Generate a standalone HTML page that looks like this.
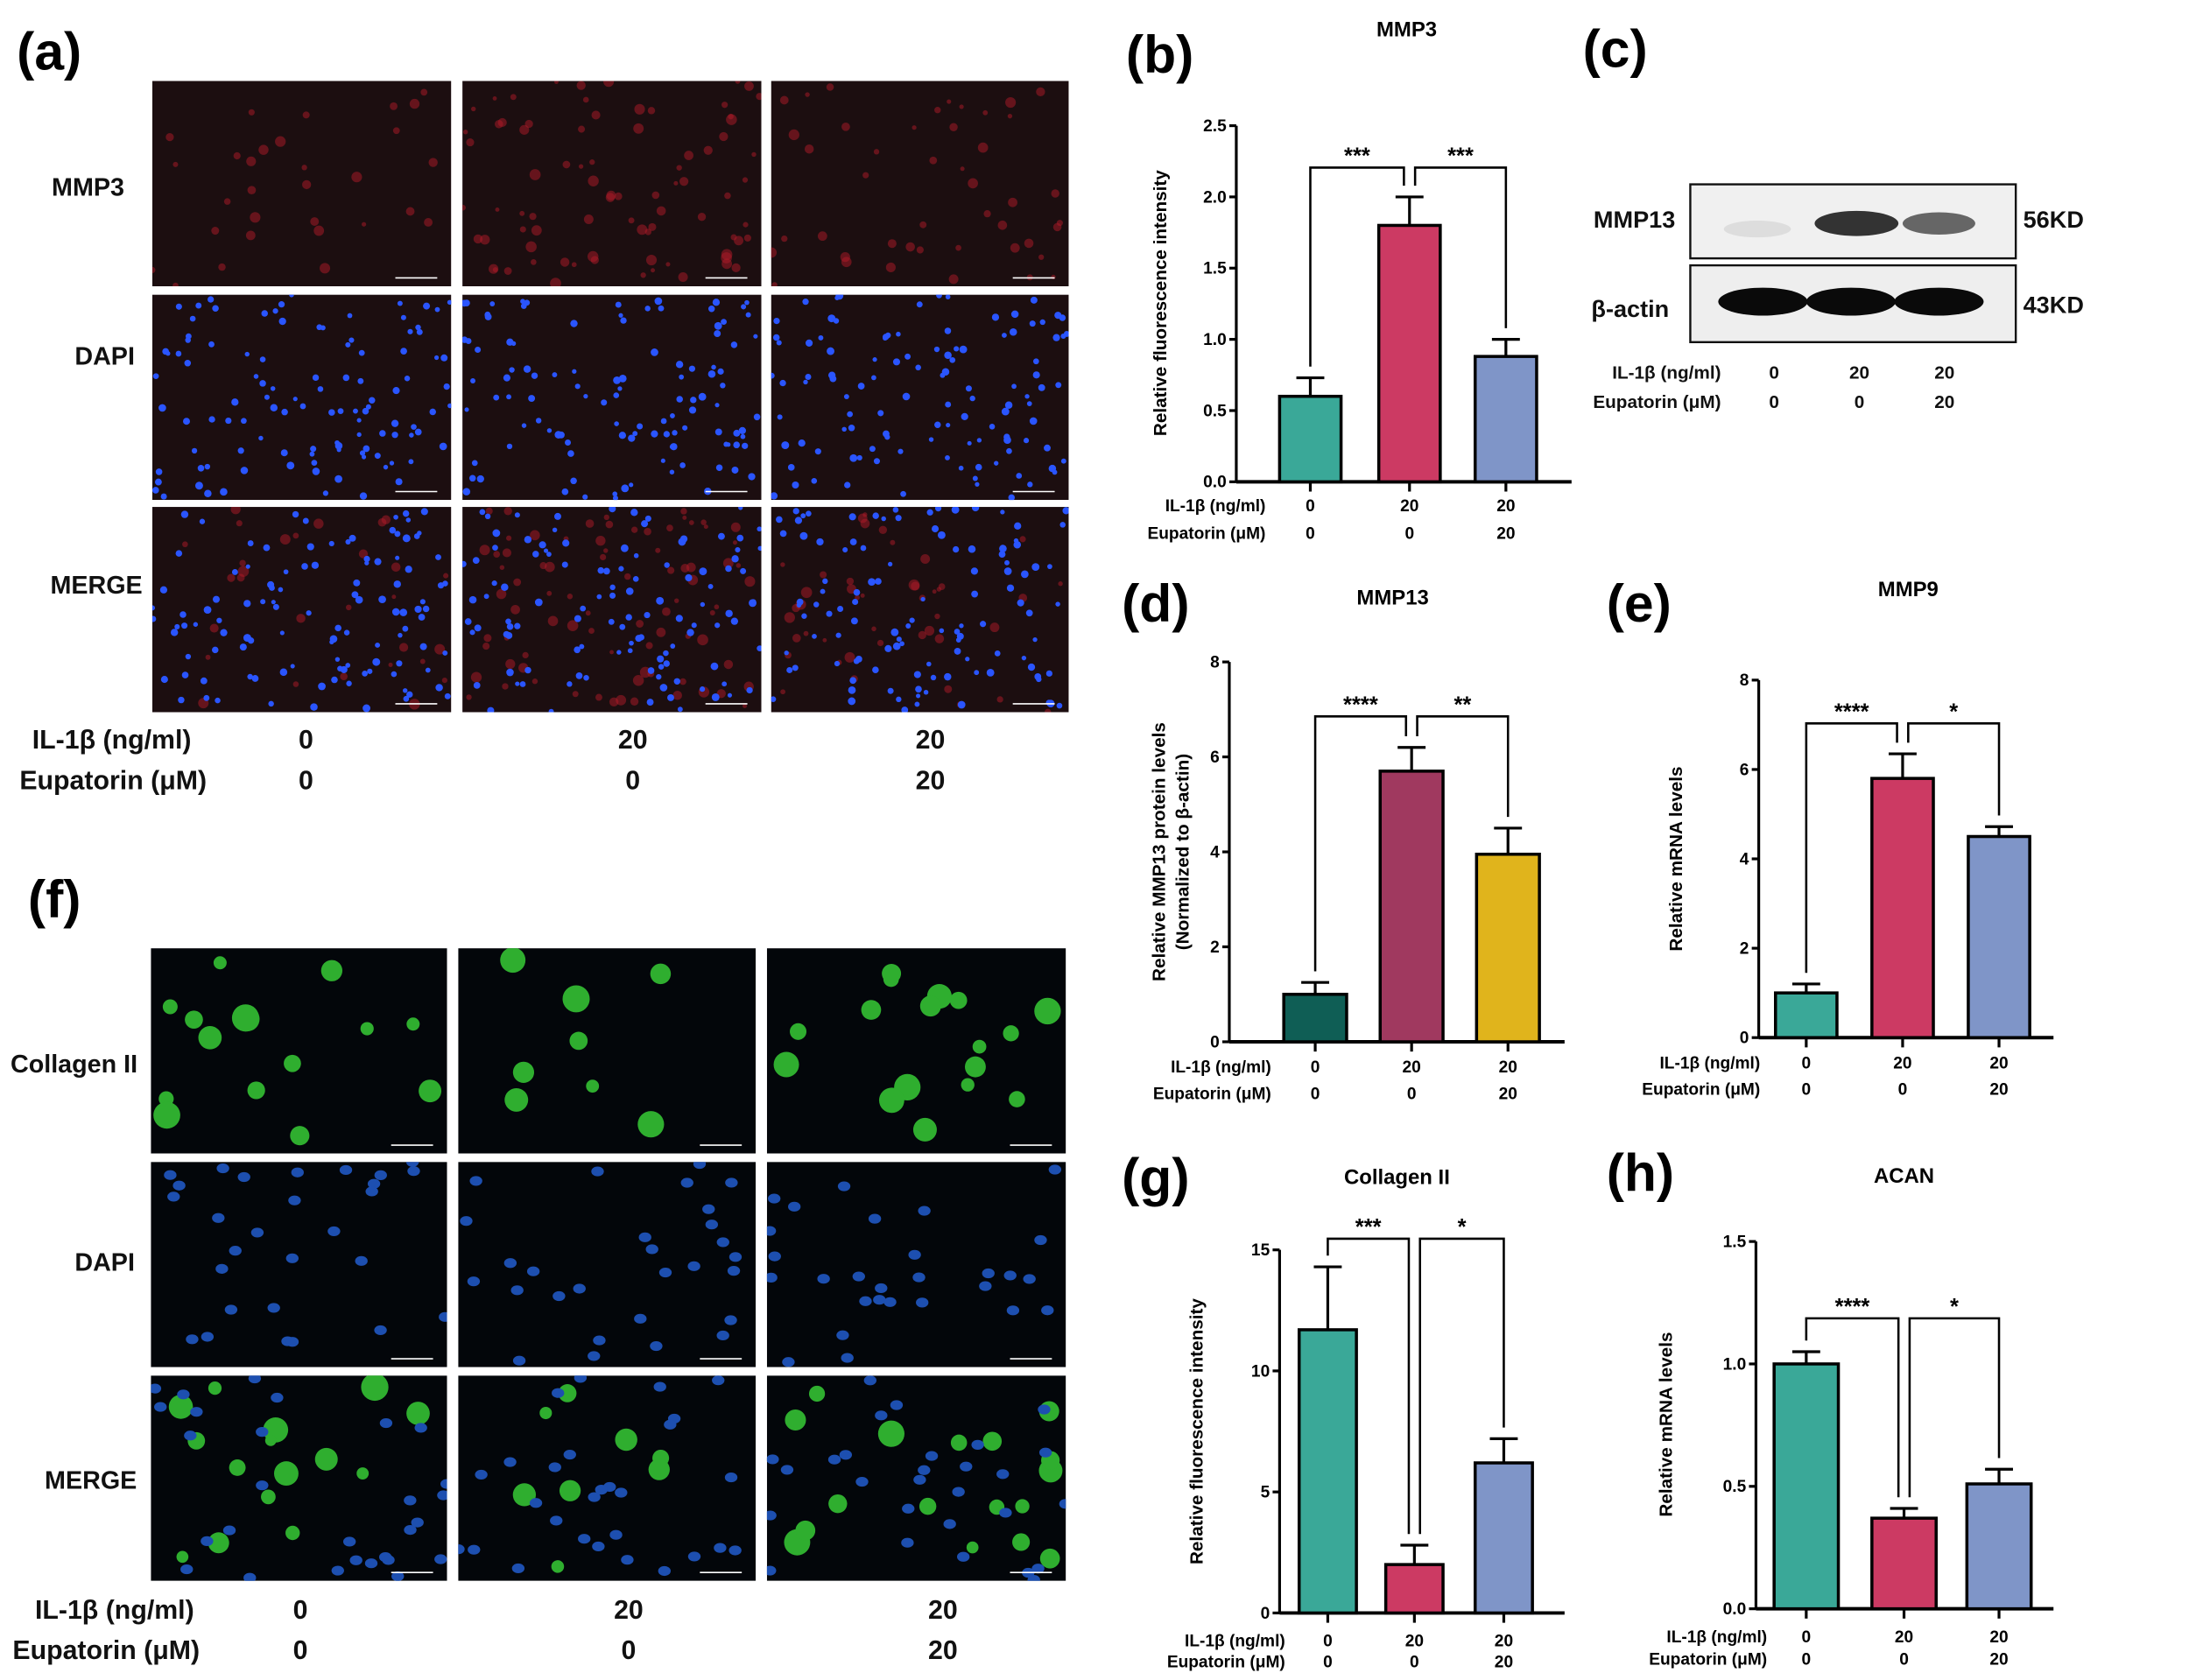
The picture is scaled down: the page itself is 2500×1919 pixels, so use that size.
<!DOCTYPE html>
<html><head><meta charset="utf-8"><style>
html,body{margin:0;padding:0;background:#fff;}
svg{display:block;font-family:"Liberation Sans",Arial,sans-serif;}
</style></head><body>
<svg id="fig" width="2500" height="1919" viewBox="0 0 1567 1203" preserveAspectRatio="none" xmlns="http://www.w3.org/2000/svg">
<rect width="1567" height="1203" fill="#fff"/>
<defs id="defs"></defs>
<g id="root"></g>
</svg>
<script>
// ---- chart data ----
const groupsIL = ["0","20","20"];
const groupsEup = ["0","0","20"];
const bMeans = [0.6, 1.8, 0.88];
const bErr = [0.13, 0.2, 0.12];
const bTicks = [0,0.5,1.0,1.5,2.0,2.5];
const dMeans = [1.0, 5.7, 3.95];
const dErr = [0.25, 0.5, 0.55];
const dTicks = [0,2,4,6,8];
const eMeans = [1.0, 5.8, 4.5];
const eErr = [0.2, 0.55, 0.22];
const eTicks = [0,2,4,6,8];
const gMeans = [11.7, 2.0, 6.2];
const gErr = [2.6, 0.8, 1.0];
const gTicks = [0,5,10,15];
const hMeans = [1.0, 0.37, 0.51];
const hErr = [0.05, 0.04, 0.06];
const hTicks = [0.0,0.5,1.0,1.5];

const NS="http://www.w3.org/2000/svg";
const root=document.getElementById('root');
const defs=document.getElementById('defs');
function el(tag,attrs,parent,text){const e=document.createElementNS(NS,tag);for(const k in attrs)e.setAttribute(k,attrs[k]);if(text!==undefined)e.textContent=text;(parent||root).appendChild(e);return e;}

function txt(x,y,s,size,opts,name){
  const t=el('text',Object.assign({x:x,y:y,'font-size':size,'font-weight':'bold','text-anchor':'middle',fill:'#111'},opts||{}),root,s);
  
  
  return t;
}

function chart(cfg){
  const g=el('g',{});
  
  
  const ax=cfg.ax, y0=cfg.y0, y1=cfg.y1, tmax=cfg.ticks[cfg.ticks.length-1];
  const ys=v=>y0-(v/tmax)*(y0-y1);
  const ya=el('line',{x1:ax,y1:y1,x2:ax,y2:y0,stroke:'#000','stroke-width':2},g);
  
  
  const xa=el('line',{x1:ax,y1:y0,x2:cfg.xend,y2:y0,stroke:'#000','stroke-width':2.5},g);
  
  
  cfg.ticks.forEach((t,i)=>{
    el('line',{x1:ax-5,y1:ys(t),x2:ax,y2:ys(t),stroke:'#000','stroke-width':2},g);
    const tl=el('text',{x:ax-7,y:ys(t)+4,'font-size':12,'font-weight':'bold','text-anchor':'end'},g,cfg.tickLabels?cfg.tickLabels[i]:String(t));
    
    
  });
  const cx=[];
  cfg.means.forEach((m,i)=>{
    const x=cfg.bx[i], w=cfg.bw, c=x+w/2; cx.push(c);
    const top=ys(m+cfg.err[i]);
    const er=el('line',{x1:c,y1:ys(m),x2:c,y2:top,stroke:'#000','stroke-width':2},g);
    
    
    el('line',{x1:c-10,y1:top,x2:c+10,y2:top,stroke:'#000','stroke-width':2},g);
    const b=el('rect',{x:x,y:ys(m),width:w,height:y0-ys(m),fill:cfg.colors[i],stroke:'#000','stroke-width':2.2},g);
    
    
    el('line',{x1:c,y1:y0,x2:c,y2:y0+7,stroke:'#000','stroke-width':2},g);
    const v1=el('text',{x:c,y:cfg.ly1,'font-size':12,'font-weight':'bold','text-anchor':'middle'},g,groupsIL[i]);
    
    
    const v2=el('text',{x:c,y:cfg.ly2,'font-size':12,'font-weight':'bold','text-anchor':'middle'},g,groupsEup[i]);
    
    
  });
  const r1=el('text',{x:cfg.lx,y:cfg.ly1,'font-size':12,'font-weight':'bold','text-anchor':'end'},g,'IL-1β (ng/ml)');
  
  
  const r2=el('text',{x:cfg.lx,y:cfg.ly2,'font-size':12,'font-weight':'bold','text-anchor':'end'},g,'Eupatorin (μM)');
  
  
  const by=cfg.brY;
  const topOf=i=>ys(cfg.means[i]+cfg.err[i])-8;
  function bracket(a,b,off1,off2,star){
    const xa=cx[a]+off1, xb=cx[b]+off2;
    const p=el('path',{d:`M${xa},${topOf(a)} V${by} H${xb} V${topOf(b)}`,fill:'none',stroke:'#000','stroke-width':1.6},g);
    
    
    const s=el('text',{x:(xa+xb)/2,y:by-3,'font-size':16,'font-weight':'bold','text-anchor':'middle'},g,star);
    
    
  }
  bracket(0,1,0,-4,cfg.stars[0]);
  bracket(1,2,4,0,cfg.stars[1]);
  const t=el('text',{x:cfg.tx,y:cfg.ty,'font-size':15,'font-weight':'bold','text-anchor':'middle'},g,cfg.title);
  
  
  cfg.ylabel.forEach((s,i)=>{
    const yl=el('text',{x:0,y:0,'font-size':13,'font-weight':'bold','text-anchor':'middle',transform:`translate(${cfg.ylx+i*17},${cfg.yly}) rotate(-90)`},g,s);
    
    
  });
}
const T="#3aa898",R="#cc3a63",B="#7f95c8";
chart({name:'chart-b-mmp3',ax:885,y0:345,y1:90,xend:1125,ticks:bTicks,tickLabels:["0.0","0.5","1.0","1.5","2.0","2.5"],means:bMeans,err:bErr,bx:[916,987,1056],bw:44,colors:[T,R,B],ly1:366,ly2:386,lx:906,brY:120,stars:["***","***"],title:'MMP3',tx:1007,ty:26,ylabel:['Relative fluorescence intensity'],ylx:835,yly:217});
chart({name:'chart-d-mmp13',ax:880,y0:746,y1:474,xend:1120,ticks:dTicks,means:dMeans,err:dErr,bx:[919,988,1057],bw:45,colors:["#0f5e55","#a0395f","#e0b41c"],ly1:768,ly2:787,lx:910,brY:513,stars:["****","**"],title:'MMP13',tx:997,ty:433,ylabel:['Relative MMP13 protein levels','(Normalized to β-actin)'],ylx:834,yly:610});
chart({name:'chart-e-mmp9',ax:1259,y0:743,y1:487,xend:1470,ticks:eTicks,means:eMeans,err:eErr,bx:[1271,1340,1409],bw:44,colors:[T,R,B],ly1:765,ly2:784,lx:1260,brY:518,stars:["****","*"],title:'MMP9',tx:1366,ty:427,ylabel:['Relative mRNA levels'],ylx:1204,yly:615});
chart({name:'chart-g-collagen2',ax:916,y0:1155,y1:895,xend:1120,ticks:gTicks,means:gMeans,err:gErr,bx:[930,992,1056],bw:41,colors:[T,R,B],ly1:1179,ly2:1194,lx:920,brY:887,stars:["***","*"],title:'Collagen II',tx:1000,ty:848,ylabel:['Relative fluorescence intensity'],ylx:861,yly:1025});
chart({name:'chart-h-acan',ax:1257,y0:1152,y1:889,xend:1470,ticks:hTicks,tickLabels:["0.0","0.5","1.0","1.5"],means:hMeans,err:hErr,bx:[1270,1340,1408],bw:46,colors:[T,R,B],ly1:1176,ly2:1192,lx:1265,brY:944,stars:["****","*"],title:'ACAN',tx:1363,ty:847,ylabel:['Relative mRNA levels'],ylx:1197,yly:1020});

[["(a)",12,50],["(b)",806,52],["(c)",1133,48],["(d)",803,445],["(e)",1150,445],["(f)",20,657],["(g)",803,856],["(h)",1150,853]].forEach(p=>{
  const t=el('text',{x:p[1],y:p[2],'font-size':38,'font-weight':'bold','text-anchor':'start'},root,p[0]);
  
  
});

// western blot
const wb=el('g',{});


el('rect',{x:1210,y:132,width:233,height:53,fill:'#f0f0f0',stroke:'#111','stroke-width':1.5},wb);
el('rect',{x:1210,y:190,width:233,height:55,fill:'#eeeeee',stroke:'#111','stroke-width':1.5},wb);
el('ellipse',{cx:1258,cy:164,rx:24,ry:6,fill:'#ddd'},wb);
el('ellipse',{cx:1329,cy:160,rx:30,ry:9,fill:'#333'},wb);
el('ellipse',{cx:1388,cy:160,rx:26,ry:8,fill:'#666'},wb);
[1262,1325,1388].forEach(c=>el('ellipse',{cx:c,cy:216,rx:32,ry:10,fill:'#0a0a0a'},wb));
[["MMP13",1170,163],["β-actin",1167,227],["56KD",1470,163],["43KD",1470,224]].forEach(a=>txt(a[1],a[2],a[0],17,{},'blot-label'));
txt(1232,271,'IL-1β (ng/ml)',13,{'text-anchor':'end'},'il1b-row-label');
txt(1232,292,'Eupatorin (μM)',13,{'text-anchor':'end'},'eupatorin-row-label');
[[1270,"0","0"],[1331,"20","0"],[1392,"20","20"]].forEach(a=>{txt(a[0],271,a[1],13,{},'il1b-value');txt(a[0],292,a[2],13,{},'eupatorin-value');});

// microscopy images (deterministic texture)
let seed=7;function rnd(){seed=(seed*16807)%2147483647;return seed/2147483647;}
let clipId=0;
function micro(x,y,w,h,kind,name,dens){
  clipId++;
  const cp=el('clipPath',{id:'c'+clipId},defs);
  el('rect',{x:x,y:y,width:w,height:h},cp);
  const g=el('g',{'clip-path':'url(#c'+clipId+')'});
  
  
  const bg=(kind==='green'||kind==='dapi2'||kind==='merge2')?'#03060a':'#1c0e10';
  el('rect',{x:x,y:y,width:w,height:h,fill:bg},g);
  if(kind==='red'||kind==='merge'){for(let i=0;i<50*dens;i++)el('circle',{cx:x+rnd()*w,cy:y+rnd()*h,r:1.5+rnd()*2.5,fill:'#b01a28',opacity:0.5},g);}
  if(kind==='dapi'||kind==='merge'){for(let i=0;i<110;i++)el('circle',{cx:x+rnd()*w,cy:y+rnd()*h,r:1.6+rnd()*1.2,fill:'#2a55ff'},g);}
  if(kind==='green'||kind==='merge2'){for(let i=0;i<12*dens;i++)el('circle',{cx:x+8+rnd()*(w-16),cy:y+8+rnd()*(h-16),r:4+rnd()*6,fill:'#2fae2f'},g);}
  if(kind==='dapi2'||kind==='merge2'){for(let i=0;i<28;i++)el('ellipse',{cx:x+rnd()*w,cy:y+rnd()*h,rx:4.5,ry:3.5,fill:'#1d4fb0'},g);}
  el('line',{x1:x+w-40,y1:y+h-6,x2:x+w-10,y2:y+h-6,stroke:'#fff','stroke-width':1},g);
}
const aX=[109,331,552],aW=[214,214,213],aY=[58,211,363],aH=147;
const aK=['red','dapi','merge'];
const aD=[0.6,1.6,0.9];
aY.forEach((yy,r)=>aX.forEach((xx,c)=>micro(xx,yy,aW[c],aH,aK[r],'micrograph-a',aD[c])));
const fX=[108,328,549],fW=[212,213,214],fY=[679,832,985],fH=147;
const fK=['green','dapi2','merge2'];
const fD=[1.2,0.6,1.4];
fY.forEach((yy,r)=>fX.forEach((xx,c)=>micro(xx,yy,fW[c],fH,fK[r],'micrograph-f',fD[c])));
[["MMP3",63,140],["DAPI",75,261],["MERGE",69,425],["Collagen II",53,768],["DAPI",75,910],["MERGE",65,1066]].forEach(a=>txt(a[1],a[2],a[0],18,{},'row-label'));
txt(80,536,'IL-1β (ng/ml)',19,{},'il1b-row-label');txt(81,565,'Eupatorin (μM)',19,{},'eupatorin-row-label');
[[219,"0","0"],[453,"20","0"],[666,"20","20"]].forEach(a=>{txt(a[0],536,a[1],19,{},'il1b-value');txt(a[0],565,a[2],19,{},'eupatorin-value');});
txt(82,1159,'IL-1β (ng/ml)',19,{},'il1b-row-label');txt(76,1188,'Eupatorin (μM)',19,{},'eupatorin-row-label');
[[215,"0","0"],[450,"20","0"],[675,"20","20"]].forEach(a=>{txt(a[0],1159,a[1],19,{},'il1b-value');txt(a[0],1188,a[2],19,{},'eupatorin-value');});
</script>
</body></html>
